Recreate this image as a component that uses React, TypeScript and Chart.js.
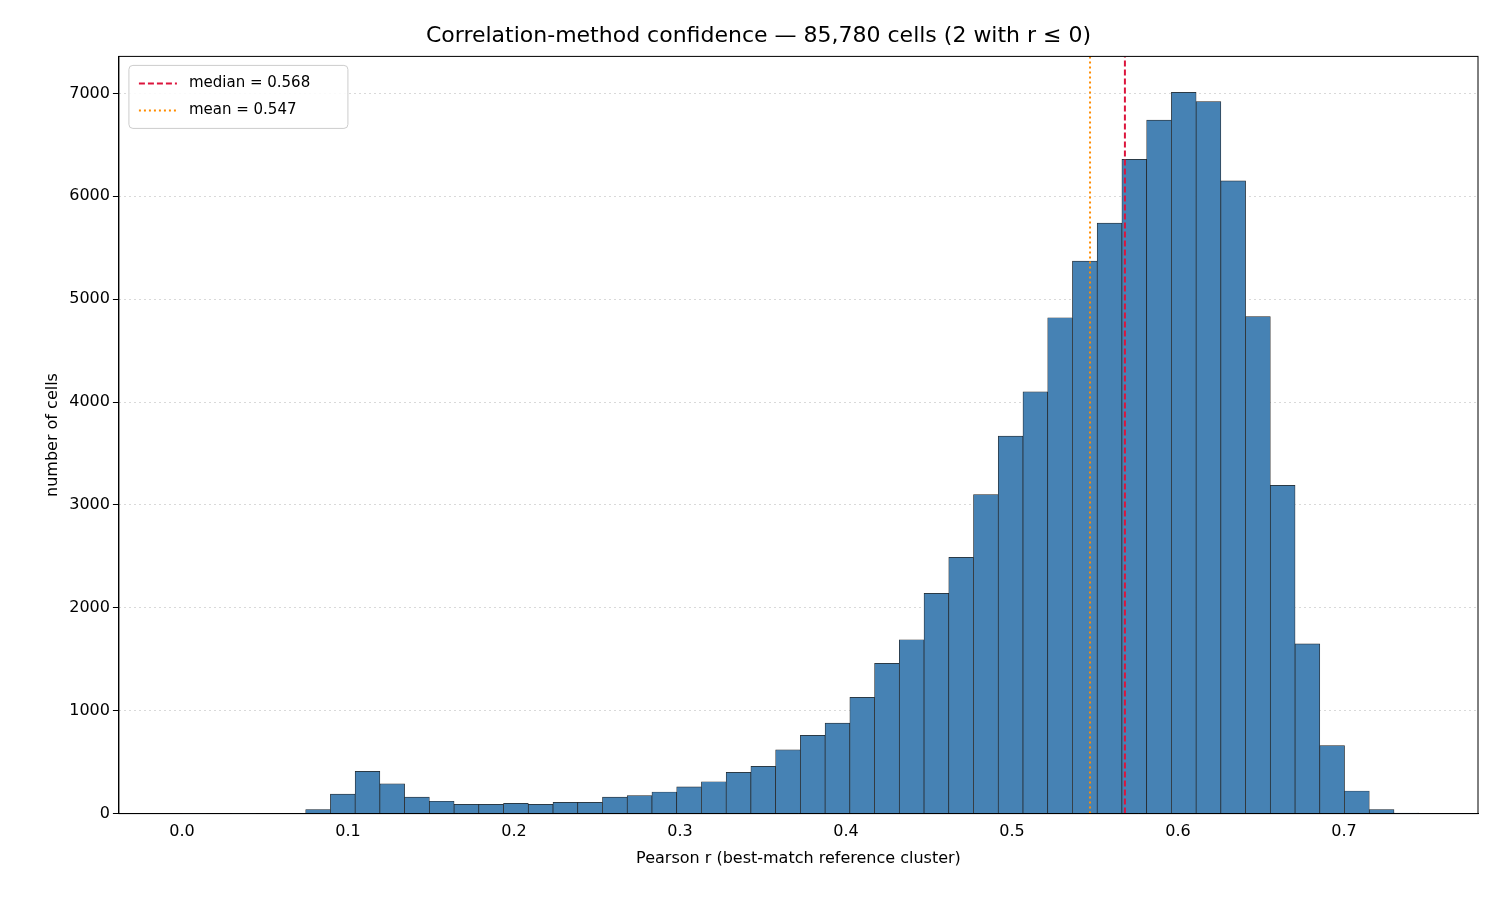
import React, { useEffect, useRef } from "react";
import { Chart, registerables } from "chart.js";
Chart.register(...registerables);

const binWidth = 0.0149;
const counts = [2, 0, 1, 0, 0, 40, 190, 410, 290, 160, 120, 90, 90, 100, 90, 110, 110, 160, 175, 210, 260, 310, 400, 460, 620, 760, 880, 1130, 1460, 1690, 2140, 2490, 3100, 3670, 4100, 4820, 5370, 5740, 6360, 6740, 7010, 6920, 6150, 4830, 3190, 1650, 660, 220, 40, 5];
const medianVal = 0.568;
const meanVal = 0.547;
const xTicks = [0, 0.1, 0.2, 0.3, 0.4, 0.5, 0.6, 0.7];
const yTicks = [0, 1000, 2000, 3000, 4000, 5000, 6000, 7000];

export default function App() {
  const ref = useRef<HTMLCanvasElement>(null);
  useEffect(() => {
    const font = "'DejaVu Sans', sans-serif";
    const legendPlugin = {
      id: "inlegend",
      afterDraw(chart: any) {
        const { ctx, chartArea } = chart;
        const x = chartArea.left + 10, y = chartArea.top + 9;
        ctx.save();
        ctx.fillStyle = "rgba(255,255,255,0.85)";
        ctx.strokeStyle = "#ccc";
        ctx.lineWidth = 1;
        ctx.beginPath();
        ctx.roundRect(x, y, 219, 63, 4);
        ctx.fill(); ctx.stroke();
        const items = [["median = 0.568", "crimson", [6, 3]], ["mean = 0.547", "darkorange", [2, 3]]] as any[];
        items.forEach((it, i) => {
          const yy = y + 18 + i * 27;
          ctx.strokeStyle = it[1]; ctx.lineWidth = 2; ctx.setLineDash(it[2]);
          ctx.beginPath(); ctx.moveTo(x + 10, yy); ctx.lineTo(x + 48, yy); ctx.stroke();
          ctx.setLineDash([]);
          ctx.fillStyle = "#000"; ctx.font = `15px ${font}`; ctx.textBaseline = "middle";
          ctx.fillText(it[0], x + 60, yy);
        });
        ctx.restore();
      },
    };
    const chart = new Chart(ref.current!, {
      type: "bar",
      data: {
        datasets: [
          {
            type: "bar",
            order: 2,
            data: counts.map((c, i) => ({ x: (i + 0.5) * binWidth, y: c })) as any,
            backgroundColor: "#4682b4",
            borderColor: "#222",
            borderWidth: 0.7,
            barPercentage: 1,
            categoryPercentage: 1,
          } as any,
          {
            type: "line",
            order: 0,
            data: [{ x: medianVal, y: 0 }, { x: medianVal, y: 7360 }],
            borderColor: "crimson",
            borderWidth: 2,
            borderDash: [6, 3],
            pointRadius: 0,
          } as any,
          {
            type: "line",
            order: 1,
            data: [{ x: meanVal, y: 0 }, { x: meanVal, y: 7360 }],
            borderColor: "darkorange",
            borderWidth: 2,
            borderDash: [2, 3],
            pointRadius: 0,
          } as any,
        ],
      },
      options: {
        animation: false,
        responsive: false,
        layout: { padding: { left: 39, right: 22, top: 0, bottom: 28 } },
        plugins: {
          legend: { display: false },
          tooltip: { enabled: false },
          title: {
            display: true,
            text: "Correlation-method confidence — 85,780 cells (2 with r ≤ 0)",
            font: { family: font, size: 22, weight: "normal" },
            color: "#000",
            padding: { top: 23, bottom: 7 },
          },
        },
        scales: {
          x: {
            type: "linear",
            offset: false,
            min: -0.038,
            max: 0.7807,
            afterBuildTicks: (a: any) => { a.ticks = xTicks.map((v) => ({ value: v })); },
            ticks: { color: "#000", font: { family: font, size: 16 }, callback: (v: any) => Number(v).toFixed(1), maxRotation: 0 },
            grid: { display: false, drawTicks: true, tickLength: 6, tickColor: "#000" } as any,
            border: { color: "#000", width: 1 },
            title: { display: true, text: "Pearson r (best-match reference cluster)", color: "#000", font: { family: font, size: 16 } },
          },
          y: {
            min: 0,
            max: 7360,
            afterBuildTicks: (a: any) => { a.ticks = yTicks.map((v) => ({ value: v })); },
            ticks: { color: "#000", font: { family: font, size: 16 }, callback: (v: any) => String(v) },
            grid: { color: "rgba(0,0,0,0.15)", tickColor: "#000", tickLength: 6, lineWidth: 1 } as any,
            border: { color: "#000", width: 1, dash: [2, 3] } as any,
            title: { display: true, text: "number of cells", color: "#000", font: { family: font, size: 16 } },
          },
        },
      },
      plugins: [
        legendPlugin,
        {
          id: "frame",
          afterDatasetsDraw(chart: any) {
            const { ctx, chartArea: a } = chart;
            ctx.save(); ctx.strokeStyle = "#000"; ctx.lineWidth = 1; ctx.setLineDash([]);
            ctx.strokeRect(a.left, a.top, a.right - a.left, a.bottom - a.top);
            ctx.restore();
          },
        },
      ],
    });
    return () => chart.destroy();
  }, []);
  return (
    <div style={{ position: "fixed", left: 0, top: 0, width: 1500, height: 900, background: "#fff" }}>
      <canvas ref={ref} width={1500} height={900} style={{ width: 1500, height: 900 }} />
    </div>
  );
}
